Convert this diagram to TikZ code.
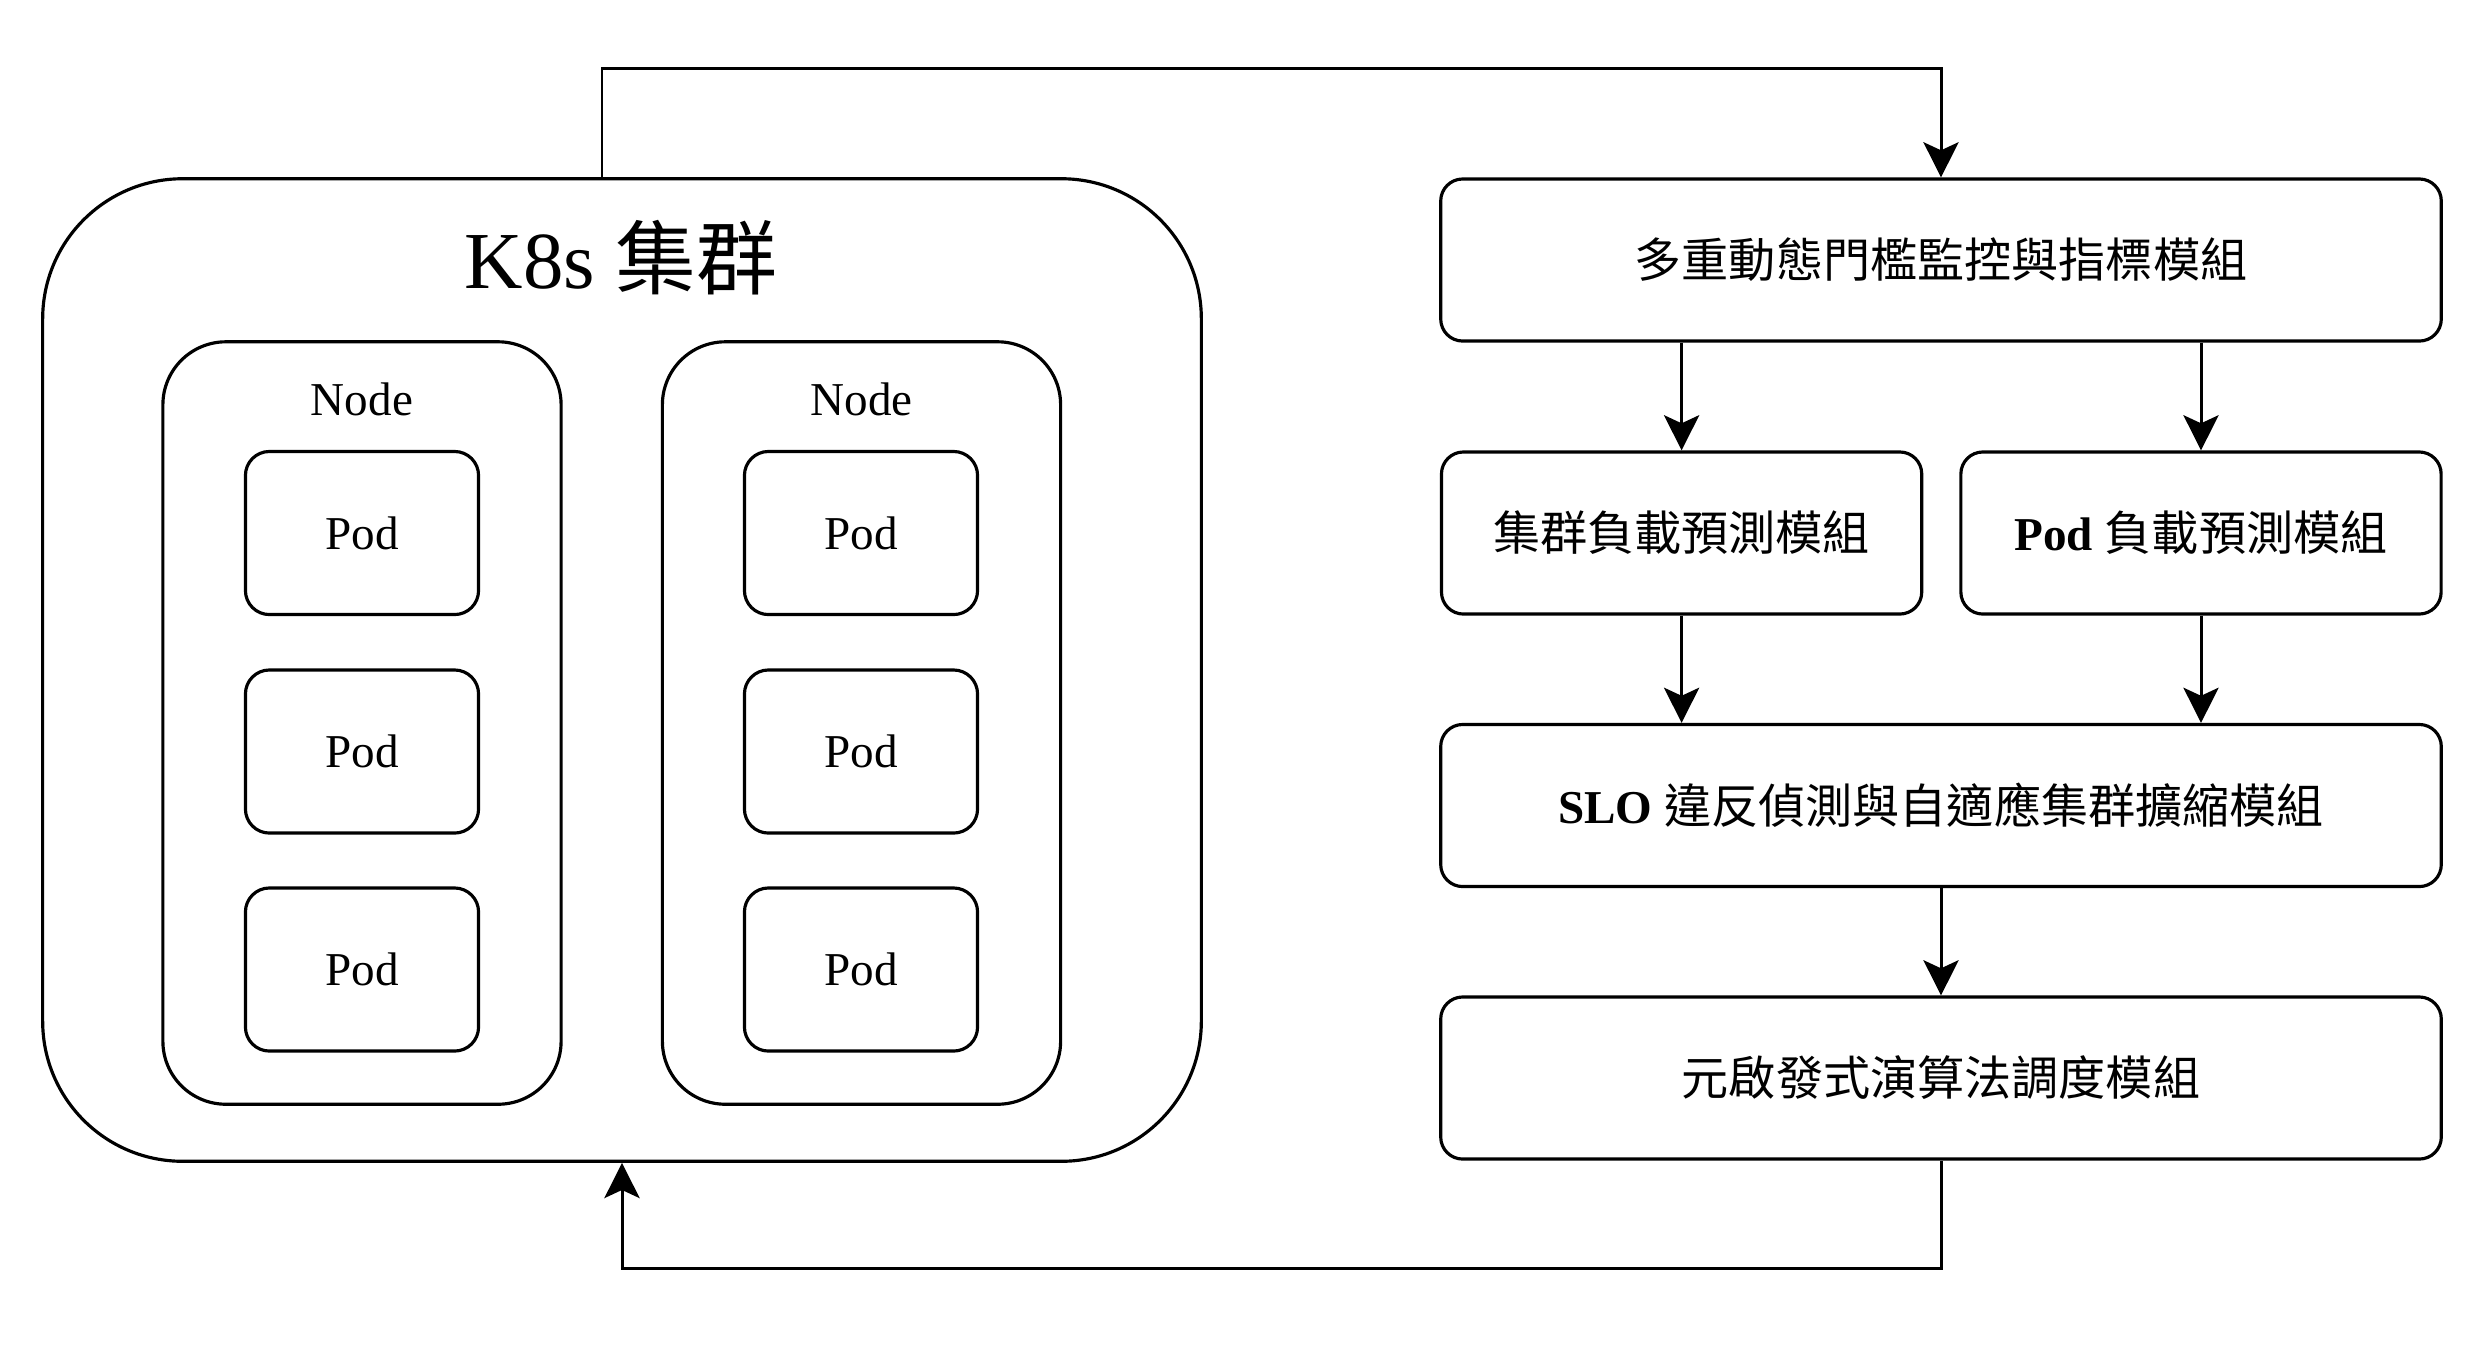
\documentclass[tikz,border=0pt]{standalone}
\usepackage{fontspec}
\setmainfont{Liberation Serif}
\newfontfamily\cjk{Noto Sans CJK TC}
\usetikzlibrary{arrows.meta}

\begin{document}
\begin{tikzpicture}[x=0.01cm, y=-0.01cm,
    box/.style={draw, line width=0.9pt, align=center, inner sep=0pt,
        font=\fontsize{13.4}{16}\selectfont},
    podbox/.style={box, rounded corners=0.24cm, minimum width=2.33cm, minimum height=1.63cm},
    nodebox/.style={box, rounded corners=0.63cm, minimum width=3.98cm, minimum height=7.62cm},
    modbox/.style={box, rounded corners=0.22cm, minimum height=1.62cm},
    link/.style={line width=0.85pt, -{Stealth[length=10pt, width=10pt, inset=2.3pt]}}
]

    % Fix the size of the picture
    \useasboundingbox (0,0) rectangle (2484,1344);

    % The cluster on the left
    \node[box, rounded corners=1.4cm, minimum width=11.58cm, minimum height=9.82cm] (K) at (622,670) {};
    \node[font=\fontsize{23}{27}\selectfont] (KT) at (621,258) {K8s {\cjk 集群}};

    % Two nodes inside the cluster
    \node[nodebox] (N1) at (362,723) {};
    \node[nodebox] (N2) at (861.5,723) {};
    \node[font=\fontsize{13.4}{16}\selectfont] (N1T) at (362,399) {Node};
    \node[font=\fontsize{13.4}{16}\selectfont] (N2T) at (861.5,399) {Node};

    % Three pods in each node
    \node[podbox] (P11) at (362,533) {Pod};
    \node[podbox] (P12) at (362,751.5) {Pod};
    \node[podbox] (P13) at (362,969.5) {Pod};
    \node[podbox] (P21) at (861,533) {Pod};
    \node[podbox] (P22) at (861,751.5) {Pod};
    \node[podbox] (P23) at (861,969.5) {Pod};

    % The modules on the right
    \node[modbox, minimum width=10cm] (T) at (1941,260) {\cjk 多重動態門檻監控與指標模組};
    \node[modbox, minimum width=4.8cm] (M1) at (1681.6,533) {\cjk 集群負載預測模組};
    \node[modbox, minimum width=4.8cm] (M2) at (2201,533) {\textbf{Pod} {\cjk 負載預測模組}};
    \node[modbox, minimum width=10cm] (S) at (1941,805.5) {\textbf{SLO} {\cjk 違反偵測與自適應集群擴縮模組}};
    \node[modbox, minimum width=10cm] (B) at (1941,1078) {\cjk 元啟發式演算法調度模組};

    % Bend points of the loop
    \coordinate (U) at ([yshift=1.09cm]T.north);
    \coordinate (R) at ([yshift=-1.08cm]B.south);

    % From the cluster to the monitoring module
    \draw[link] ([xshift=-0.2cm]K.north) |- (U) -- (T.north);

    % Down through the modules
    \draw[link] (T.south -| M1.north) -- (M1.north);
    \draw[link] (T.south -| M2.north) -- (M2.north);
    \draw[link] (M1.south) -- (S.north -| M1.south);
    \draw[link] (M2.south) -- (S.north -| M2.south);
    \draw[link] (S.south) -- (B.north);

    % Back to the cluster
    \draw[link] (B.south) -- (R) -| (K.south);

\end{tikzpicture}
\end{document}
